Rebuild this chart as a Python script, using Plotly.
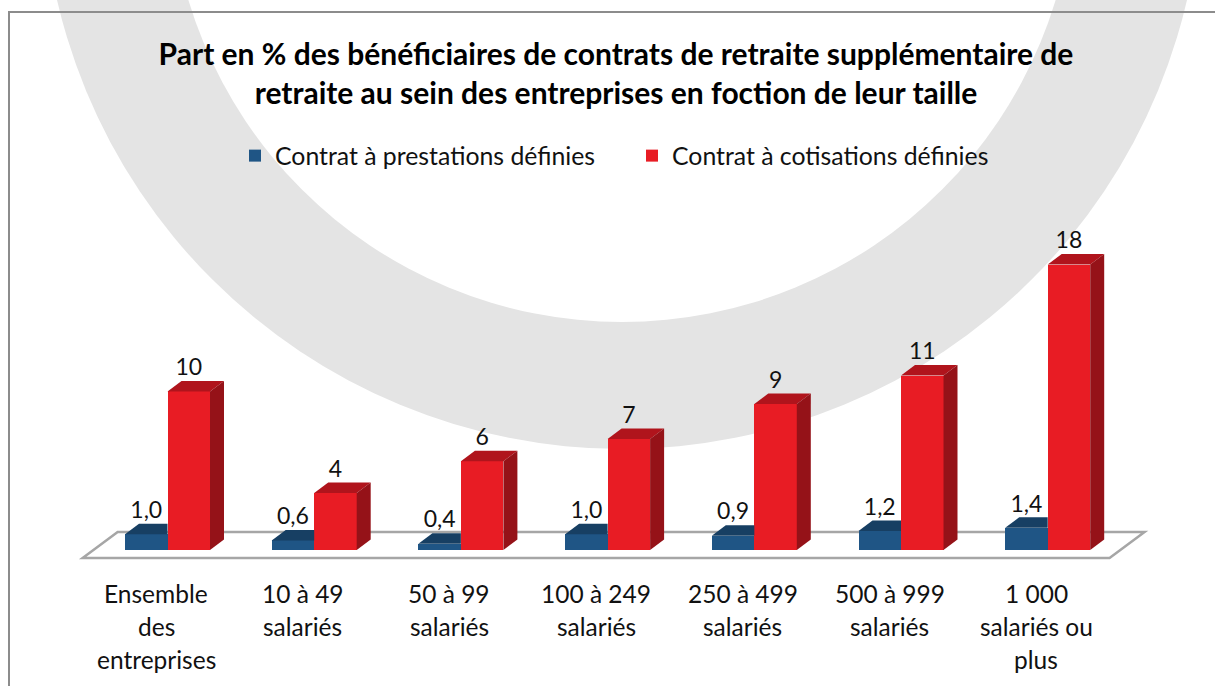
import plotly.graph_objects as go

# ---------------- data ----------------
categories = [
    "Ensemble<br>des<br>entreprises",
    "10 à 49<br>salariés",
    "50 à 99<br>salariés",
    "100 à 249<br>salariés",
    "250 à 499<br>salariés",
    "500 à 999<br>salariés",
    "1 000<br>salariés ou<br>plus",
]
series_names = ["Contrat à prestations définies", "Contrat à cotisations définies"]
prestations = [1.0, 0.6, 0.4, 1.0, 0.9, 1.2, 1.4]
cotisations = [10.0, 3.6, 5.6, 7.0, 9.2, 11.0, 18.0]
title_text = ("Part en % des bénéficiaires de contrats de retraite supplémentaire de<br>"
              "retraite au sein des entreprises en foction de leur taille")

# ---------------- layout constants (pixels) ----------------
W, H = 1215, 686
FONT = "Lato, 'Open Sans', sans-serif"
X0_PX, XPU = 156.0, 146.7          # category 0 centre (front plane), px per category
Y0_PX, YPU = 550.0, 15.86          # value 0 (bar base) px, px per unit
XDOM_PX = (40, 1190)
YDOM_PX = (566, 180)               # bottom, top (pixels from top)

BAR_W = 42.5 / XPU
BAR_SHIFT = 11.5 / XPU
DX = 14.0 / XPU                    # bar depth (x)
DY = 10.5 / YPU                    # bar depth (y)
FLOOR_FRONT = (550 - 558) / YPU
FLOOR_BACK = (550 - 532) / YPU
FLOOR_DX = 35.0 / XPU

BLUE, BLUE_TOP = "#1F5585", "#173F63"
RED, RED_TOP, RED_SIDE = "#E81C24", "#B0141C", "#951218"


def px2x(p):
    return (p - X0_PX) / XPU


def px2y(p):
    return (Y0_PX - p) / YPU


n = len(categories)
idx = list(range(n))

fig = go.Figure()

# front faces (bars)
blue_x = [i + BAR_SHIFT - BAR_W / 2 for i in idx]
red_x = [i + BAR_SHIFT + BAR_W / 2 for i in idx]
fig.add_trace(go.Bar(x=blue_x, y=prestations, width=BAR_W, name=series_names[0],
                     marker=dict(color=BLUE, line=dict(width=0)), hoverinfo="y"))
fig.add_trace(go.Bar(x=red_x, y=cotisations, width=BAR_W, name=series_names[1],
                     marker=dict(color=RED, line=dict(width=0)), hoverinfo="y"))

# 3D faces computed from the data values
for i, v in enumerate(prestations):
    x0 = i + BAR_SHIFT - BAR_W
    x1 = i + BAR_SHIFT
    # visible part of the top face (right part hidden behind the red bar)
    fig.add_trace(go.Scatter(x=[x0, x0 + DX, x1, x1, x0], y=[v, v + DY, v + DY, v, v],
                             fill="toself", fillcolor=BLUE_TOP, mode="none",
                             showlegend=False, hoverinfo="skip"))
for i, v in enumerate(cotisations):
    x0 = i + BAR_SHIFT
    x1 = x0 + BAR_W
    fig.add_trace(go.Scatter(x=[x0, x0 + DX, x1 + DX, x1, x0], y=[v, v + DY, v + DY, v, v],
                             fill="toself", fillcolor=RED_TOP, mode="none",
                             showlegend=False, hoverinfo="skip"))
    fig.add_trace(go.Scatter(x=[x1, x1 + DX, x1 + DX, x1, x1], y=[0, DY, v + DY, v, 0],
                             fill="toself", fillcolor=RED_SIDE, mode="none",
                             showlegend=False, hoverinfo="skip"))

# data labels
blue_lab = [f"{v:.1f}".replace(".", ",") for v in prestations]
red_lab = [f"{v:.0f}" for v in cotisations]
fig.add_trace(go.Scatter(x=[i + BAR_SHIFT - BAR_W / 2 for i in idx],
                         y=[v + DY for v in prestations], text=blue_lab, mode="text",
                         textposition="top center", showlegend=False, hoverinfo="skip",
                         textfont=dict(family=FONT, size=23, color="#111111")))
fig.add_trace(go.Scatter(x=[i + BAR_SHIFT + BAR_W / 2 for i in idx],
                         y=[v + DY for v in cotisations], text=red_lab, mode="text",
                         textposition="top center", showlegend=False, hoverinfo="skip",
                         textfont=dict(family=FONT, size=23, color="#111111")))

shapes = []
# background ring watermark (paper coords)
def circ(cx, cy, r, color):
    return dict(type="circle", xref="paper", yref="paper", layer="below",
                x0=(cx - r) / W, x1=(cx + r) / W,
                y0=1 - (cy + r) / H, y1=1 - (cy - r) / H,
                fillcolor=color, line=dict(width=0))
shapes.append(circ(622, -131, 580, "#E4E4E4"))
shapes.append(circ(622, -131, 453, "#FFFFFF"))
# chart border
shapes.append(dict(type="rect", xref="paper", yref="paper", layer="below",
                   x0=9 / W, x1=1230 / W, y0=-0.05, y1=1 - 12 / H,
                   line=dict(color="#8C8C8C", width=2), fillcolor="rgba(0,0,0,0)"))
# floor
fx0, fx1 = -0.5, n - 0.5
shapes.append(dict(type="path", xref="x", yref="y", layer="below",
                   path=(f"M{fx0},{FLOOR_FRONT} L{fx1},{FLOOR_FRONT} "
                         f"L{fx1 + FLOOR_DX},{FLOOR_BACK} L{fx0 + FLOOR_DX},{FLOOR_BACK} Z"),
                   fillcolor="#FFFFFF", line=dict(color="#A6A6A6", width=2.5)))

# category labels (one annotation per line to reproduce the line spacing)
annotations = []
for i, lab in enumerate(categories):
    for j, line in enumerate(lab.split("<br>")):
        annotations.append(dict(x=i, xref="x", y=1 - (593 + 33 * j) / H, yref="paper",
                                text=line, showarrow=False, xanchor="center", yanchor="middle",
                                font=dict(family=FONT, size=24.5, color="#111111")))

fig.update_layout(
    width=W, height=H,
    margin=dict(l=0, r=0, t=0, b=0),
    paper_bgcolor="white", plot_bgcolor="rgba(0,0,0,0)",
    barmode="overlay", bargap=0,
    title=dict(text=f"<b>{title_text}</b>", x=616 / W, xanchor="center",
               y=1 - 65 / H, yanchor="top",
               font=dict(family=FONT, size=30, color="#000000")),
    legend=dict(orientation="h", x=235 / W, xanchor="left", y=1 - 133 / H, yanchor="top",
                font=dict(family=FONT, size=24.8, color="#111111"),
                entrywidth=352, entrywidthmode="pixels", bgcolor="rgba(0,0,0,0)",
                itemclick=False, itemdoubleclick=False),
    xaxis=dict(domain=[XDOM_PX[0] / W, XDOM_PX[1] / W],
               range=[px2x(XDOM_PX[0]), px2x(XDOM_PX[1])],
               showgrid=False, zeroline=False, showticklabels=False, showline=False,
               fixedrange=True),
    yaxis=dict(domain=[1 - YDOM_PX[0] / H, 1 - YDOM_PX[1] / H],
               range=[px2y(YDOM_PX[0]), px2y(YDOM_PX[1])],
               showgrid=False, zeroline=False, showticklabels=False, showline=False,
               fixedrange=True),
    shapes=shapes, annotations=annotations,
    showlegend=True,
)

fig.write_html("out.html", config={"displayModeBar": False},
               post_script="document.body.style.margin='0';document.body.style.overflow='hidden';")
